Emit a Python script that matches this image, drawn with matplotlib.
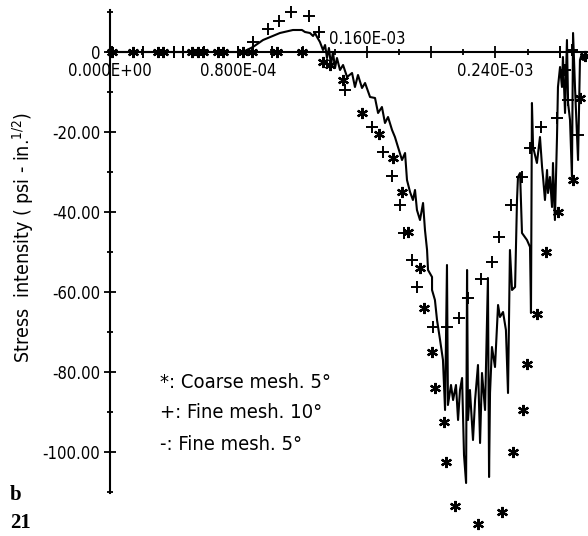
import numpy as np
import matplotlib
matplotlib.use('Agg')
import matplotlib.pyplot as plt
from matplotlib.ticker import FixedLocator

# datos (x en microsegundos, K en psi-in^1/2)
fino5_x = [0, 82.8, 89.0, 95.3, 105.8, 113.9, 119.5, 121.4, 124.5, 126.4, 127.6, 128.9,
           130.7, 132.6, 133.9, 135.1, 136.3, 137.6, 138.8, 140.1, 141.3, 143.2, 145.1,
           147.6, 150.7, 152.5, 154.4, 156.9, 158.8, 161.9, 165.0, 166.9, 169.3, 171.2,
           173.1, 175.6, 177.4, 179.3, 181.8, 183.7, 184.9, 186.8, 188.6, 189.9, 191.1,
           193.0, 194.9, 196.1, 197.4, 198.0, 200.5, 200.5, 202.3, 203.6, 205.5, 207.3,
           208.6, 209.8, 210.4, 212.3, 213.6, 215.4, 216.7, 217.9, 219.2, 220.4, 221.7,
           222.3, 222.9, 224.1, 226.0, 227.3, 229.1, 230.4, 231.6, 233.5, 235.3, 236.0,
           236.6, 237.8, 239.7, 241.6, 242.8, 244.7, 246.5, 247.8, 249.0, 250.3, 252.2,
           253.4, 254.0, 255.3, 256.5, 259.6, 261.5, 262.1, 262.7, 263.4, 265.8, 267.7,
           269.0, 269.6, 270.8, 272.1, 272.7, 273.9, 275.2, 275.8, 277.0, 278.3, 278.9,
           280.2, 281.4, 282.0, 283.3, 284.5, 285.2, 286.4, 287.6, 288.3, 289.5, 290.8,
           291.4, 292.6, 293.9, 294.5, 297.0]
fino5_y = [0, 0, 1.25, 3.0, 4.75, 5.5, 5.5, 5.0, 4.75, 4.0, 4.75, 3.75,
           2.5, 0.5, 1.75, -1.5, 1.0, -3.25, 0, -4.0, -1.5, -4.5, -3.25,
           -6.25, -5.25, -8.75, -5.75, -9.0, -7.75, -11.25, -11.5, -15.25, -13.75, -17.75,
           -16.25, -19.5, -21.25, -23.75, -27.0, -25.25, -32.0, -35.0, -37.0, -34.5, -39.5,
           -42.0, -37.75, -44.5, -49.5, -54.5, -56.25, -59.5, -62.0, -67.0, -72.0, -77.0,
           -89.5, -53.25, -88.25, -83.25, -87.0, -83.25, -92.0, -84.5, -81.5, -100.75, -107.75,
           -54.5, -92.0, -84.5, -97.0, -87.0, -78.25, -97.75, -80.25, -89.5, -56.5, -106.25,
           -85.25, -73.75, -78.75, -63.25, -66.25, -65.0, -69.5, -85.25, -49.5, -59.5, -58.75,
           -37.0, -31.25, -30.25, -45.25, -47.0, -48.75, -65.25, -12.75, -23.75, -27.75, -21.25,
           -28.75, -31.25, -37.0, -29.5, -35.25, -31.25, -38.75, -27.75, -42.0, -21.25, -8.75,
           -3.75, -8.75, -1.25, -15.25, 3.0, -12.75, -17.0, -31.25, 4.75, -8.75, -21.25,
           -27.0, -2.0, -0.25, -2.0, -1.25]

grueso5_x = [1.2, 14.3, 29.9, 33.0, 51.1, 54.8, 57.9, 67.2, 70.4, 82.8, 88.4, 104.0, 119.5,
             132.6, 137.0, 145.0, 157.0, 167.5, 176.0, 182.0, 185.5, 193.0, 195.5, 200.5,
             202.3, 208.0, 209.0, 215.0, 229.0, 244.0, 251.0, 257.0, 259.6, 266.0, 271.4,
             279.0, 288.0, 292.6, 296.0]
grueso5_y = [0, 0, 0, 0, 0, 0, 0, 0, 0, 0, 0, 0, 0,
             -2.5, -3.3, -7.0, -15.3, -20.5, -26.5, -35.0, -45.0, -54.0, -64.0, -75.0,
             -84.0, -92.5, -102.5, -113.5, -118.0, -115.0, -100.0, -89.5, -78.0, -65.5, -50.0,
             -40.0, -32.0, -11.5, -1.0]

fino10_x = [1.2, 20.5, 39.8, 45.5, 58.5, 79.7, 100.9,
            89.0, 98.4, 105.2, 112.7, 123.9, 130.1,
            146.3, 163.1, 170.0, 175.6, 180.5, 183.0, 188.0, 191.1, 201.1, 209.8, 217.3,
            222.9, 231.0, 237.8, 242.2, 249.7, 256.5, 261.5, 268.3, 278.3, 280.2, 283.3,
            285.2, 287.6, 291.4]
fino10_y = [0, 0, 0, 0, 0, 0, 0,
            2.5, 5.75, 7.75, 10.0, 9.0, 5.0,
            -9.5, -18.75, -25.0, -31.0, -38.25, -45.25, -52.0, -58.75, -68.75, -68.75, -66.5,
            -61.5, -56.75, -52.5, -46.25, -38.25, -31.25, -24.0, -18.75, -16.5, 0, -4.5,
            -12.0, 0.5, -20.75]

xticks_lab = ['0.000E+00', '0.800E-04', '0.160E-03', '0.240E-03']
yticks_val = [-100, -80, -60, -40, -20, 0]
leyenda = ['*: Coarse mesh. 5°', '+: Fine mesh. 10°', '-: Fine mesh. 5°']

plt.rcParams['font.family'] = ['DejaVu Sans']
plt.rcParams['font.stretch'] = 'condensed'
plt.rcParams['mathtext.fontset'] = 'custom'
plt.rcParams['mathtext.rm'] = 'DejaVu Sans:stretch=condensed'

fig = plt.figure(figsize=(5.88, 5.36), dpi=100)
ax = fig.add_axes([110 / 588, 1 - 493 / 536, 478 / 588, 483 / 536])

us = 1e-6
ax.plot(np.array(fino5_x) * us, fino5_y, color='black', lw=1.5, clip_on=False)
ax.plot(np.array(grueso5_x) * us, grueso5_y, ls='none', marker=(6, 2, 0),
        ms=8, mew=1.6, color='black', clip_on=False)
ax.plot(np.array(fino10_x) * us, fino10_y, ls='none', marker='+',
        ms=9, mew=1.4, color='black', clip_on=False)

ax.set_xlim(0, 297.6 * us)
ax.set_ylim(-110.25, 10.5)

for s in ['top', 'right']:
    ax.spines[s].set_visible(False)
ax.spines['bottom'].set_position(('data', 0))
ax.spines['left'].set_position(('data', 0))
ax.spines['bottom'].set_linewidth(1.5)
ax.spines['left'].set_linewidth(1.5)

# eje x
ax.xaxis.set_major_locator(FixedLocator(np.arange(0, 300, 40) * us))
ax.xaxis.set_minor_locator(FixedLocator(np.arange(20, 300, 40) * us))
ax.set_xticklabels([])
ax.tick_params(axis='x', which='major', direction='inout', length=9, width=1.3)
ax.tick_params(axis='x', which='minor', direction='inout', length=5, width=1.3)
for i, lab in enumerate(xticks_lab):
    xv = i * 80 * us
    if i == 2:
        ax.annotate(lab, (xv, 0), xytext=(0, 3), textcoords='offset points',
                    ha='center', va='bottom', fontsize=12)
    else:
        ax.annotate(lab, (xv, 0), xytext=(0, -7.5), textcoords='offset points',
                    ha='center', va='top', fontsize=12)

# eje y
ax.yaxis.set_major_locator(FixedLocator(yticks_val))
ax.yaxis.set_minor_locator(FixedLocator(np.arange(-110, 11, 20)))
ax.set_yticklabels(['0' if v == 0 else '%.2f' % v for v in yticks_val], fontsize=12)
ax.tick_params(axis='y', which='major', direction='inout', length=9, width=1.3, pad=2.5)
ax.tick_params(axis='y', which='minor', direction='inout', length=5, width=1.3)

fig.text(23 / 588, 1 - 238 / 536, r'Stress  intensity ( psi - in.$^{1/2}$)',
         rotation=90, ha='center', va='center', fontsize=14)

for i, t in enumerate(leyenda):
    fig.text(160 / 588, 1 - (382 + 31 * i) / 536, t, ha='left', va='center', fontsize=14.5)

fig.text(10 / 588, 1 - 495 / 536, 'b', family='Liberation Serif', weight='bold',
         fontsize=15, ha='left', va='center')
fig.text(10 / 588, 1 - 523 / 536, '21', family='Liberation Serif', weight='bold',
         fontsize=15, ha='left', va='center')

fig.savefig('out.png', dpi=100)
